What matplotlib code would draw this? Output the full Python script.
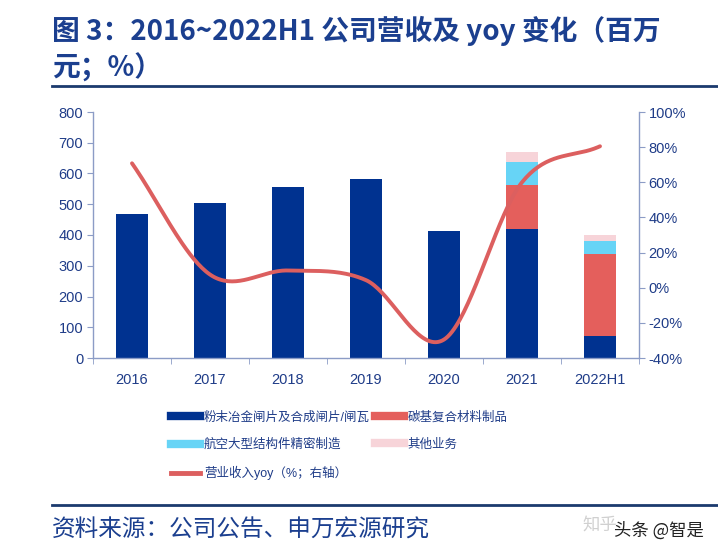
import matplotlib.pyplot as plt
import numpy as np
from matplotlib.lines import Line2D

plt.rcParams['font.family'] = ['Liberation Sans', 'Noto Sans CJK SC']

years = ["2016", "2017", "2018", "2019", "2020", "2021", "2022H1"]
powder = [467, 505, 557, 581, 413, 419, 72]
carbon = [0, 0, 0, 0, 0, 144, 266]
aero = [0, 0, 0, 0, 0, 73, 42]
other = [0, 0, 0, 0, 0, 34, 21]
yoy = [70.8, 7.5, 9.8, 4.3, -29.5, 60, 80.5]

navy = "#003290"
red = "#E45F5C"
cyan = "#67D4F6"
pink = "#F7D4D9"
line_red = "#DC5F5F"
txt = "#1F3C88"
spine = "#8C9CC6"


def smooth(xs, ys, n=40):
    # catmull-rom, like the excel smooth line
    xs = np.asarray(xs, float)
    ys = np.asarray(ys, float)
    px = np.concatenate([[2 * xs[0] - xs[1]], xs, [2 * xs[-1] - xs[-2]]])
    py = np.concatenate([[2 * ys[0] - ys[1]], ys, [2 * ys[-1] - ys[-2]]])
    out_x, out_y = [], []
    t = np.linspace(0, 1, n)
    for i in range(1, len(px) - 2):
        for p, out in ((px, out_x), (py, out_y)):
            p0, p1, p2, p3 = p[i - 1], p[i], p[i + 1], p[i + 2]
            c1 = p1 + (p2 - p0) / 6
            c2 = p2 - (p3 - p1) / 6
            out.extend((1 - t) ** 3 * p1 + 3 * (1 - t) ** 2 * t * c1
                       + 3 * (1 - t) * t ** 2 * c2 + t ** 3 * p2)
    return out_x, out_y


fig = plt.figure(figsize=(7.18, 5.53), dpi=100)
ax = fig.add_axes([93 / 718, 1 - 358 / 553, (639 - 93) / 718, (358 - 112) / 553])
ax2 = ax.twinx()

x = np.arange(len(years))
w = 0.4
b1 = np.array(powder)
b2 = b1 + np.array(carbon)
b3 = b2 + np.array(aero)
ax.bar(x, powder, w, color=navy, zorder=2)
ax.bar(x, carbon, w, bottom=b1, color=red, zorder=2)
ax.bar(x, aero, w, bottom=b2, color=cyan, zorder=2)
ax.bar(x, other, w, bottom=b3, color=pink, zorder=2)

sx, sy = smooth(x, yoy)
ax2.plot(sx, sy, color=line_red, lw=2.8, solid_capstyle='round')

ax.set_xlim(-0.5, len(years) - 0.5)
ax.set_ylim(0, 800)
ax.set_yticks(range(0, 801, 100))
ax2.set_ylim(-40, 100)
ax2.set_yticks(range(-40, 101, 20))
ax2.set_yticklabels([f"{v}%" for v in range(-40, 101, 20)])

ax.set_xticks(x)
ax.set_xticklabels(years)
ax.set_xticks(np.arange(-0.5, len(years)), minor=True)
ax.tick_params(axis='x', which='major', length=0, pad=11, labelsize=10.5, labelcolor=txt)
ax.tick_params(axis='x', which='minor', length=4, color=spine, direction='out')
ax.tick_params(axis='y', length=4, color=spine, labelsize=10.5, labelcolor=txt, pad=3)
ax2.tick_params(axis='y', length=4, color=spine, labelsize=10.5, labelcolor=txt, pad=3)

for a in (ax, ax2):
    a.spines['top'].set_visible(False)
    for s in ('left', 'right', 'bottom'):
        a.spines[s].set_color(spine)
        a.spines[s].set_linewidth(1.0)
ax.spines['right'].set_visible(False)
ax2.spines['left'].set_visible(False)
ax2.spines['bottom'].set_visible(False)

handles = [
    Line2D([], [], color=navy, lw=6),
    Line2D([], [], color=cyan, lw=6),
    Line2D([], [], color=line_red, lw=3.5),
    Line2D([], [], color=red, lw=6),
    Line2D([], [], color=pink, lw=6),
]
labels = ["粉末冶金闸片及合成闸片/闸瓦", "航空大型结构件精密制造", "营业收入yoy（%；右轴）",
          "碳基复合材料制品", "其他业务"]
fig.legend(handles, labels, ncol=2, loc='upper left',
           bbox_to_anchor=(160 / 718, 1 - 400 / 553), frameon=False,
           handlelength=2.3, handletextpad=0.3, columnspacing=0.4,
           labelspacing=1.2, prop={'size': 9.0},
           labelcolor=txt)

fig.text(52 / 718, 1 - 31 / 553, "图 3：2016~2022H1 公司营收及 yoy 变化（百万",
         fontsize=20, fontweight='bold', color="#1B3F8F", va='center',
         family=['Noto Sans CJK SC'])
fig.text(52 / 718, 1 - 68 / 553, "元；%）",
         fontsize=20, fontweight='bold', color="#1B3F8F", va='center',
         family=['Noto Sans CJK SC'])
fig.add_artist(Line2D([52 / 718, 1], [1 - 86 / 553, 1 - 86 / 553], color="#1B3A6E", lw=2))
fig.add_artist(Line2D([52 / 718, 1], [1 - 505 / 553, 1 - 505 / 553], color="#1B3A6E", lw=2))
fig.text(52 / 718, 1 - 530 / 553, "资料来源：公司公告、申万宏源研究",
         fontsize=17, color="#1B3F8F", va='center', family=['Noto Sans CJK SC'])
fig.text(582 / 718, 1 - 525 / 553, "知乎", fontsize=12.5, color="#D0D0D0",
         va='center', family=['Noto Sans CJK SC'])
fig.text(614 / 718, 1 - 531 / 553, "头条 @智是", fontsize=12.5, color="#222222",
         va='center', family=['Noto Sans CJK SC'])

fig.savefig("out.png", dpi=100)
